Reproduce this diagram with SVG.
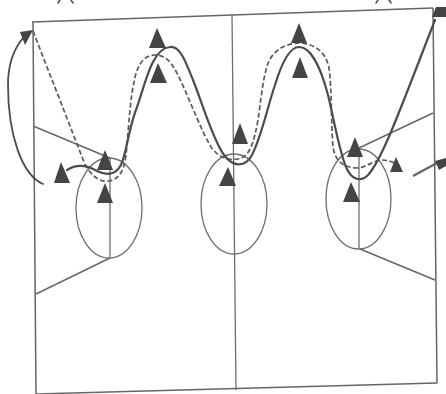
<svg xmlns="http://www.w3.org/2000/svg" width="446" height="394" viewBox="0 0 446 394">
<defs>
<style>
.thin{fill:none;stroke:#6e6e6e;stroke-width:1.3}
.line{fill:none;stroke:#666;stroke-width:1.5}
.run{fill:none;stroke:#4c4c4c;stroke-width:2.2;stroke-linecap:round}
.dash{fill:none;stroke:#5a5a5a;stroke-width:1.7;stroke-dasharray:5 2.5}
.tri{fill:#444}
</style>
</defs>
<rect width="446" height="394" fill="#fff"/>
<g id="court">
<path class="line" d="M32 22L433 8"/>
<path class="line" d="M33 22L36 394"/>
<path class="line" d="M433 8L437 383"/>
<path class="line" d="M36 394L437 383"/>
<path class="thin" d="M232 14L236 390"/>
<path class="line" d="M33 126L110 158"/>
<path class="line" d="M36 294L110 258"/>
<path class="line" d="M433 113L359 148"/>
<path class="line" d="M435 280L360 249"/>
<path class="thin" d="M110 158V258"/>
<path class="thin" d="M359 148V249"/>
<ellipse class="thin" cx="109" cy="208" rx="33" ry="50"/>
<ellipse class="thin" cx="234" cy="204" rx="33" ry="50"/>
<ellipse class="thin" cx="358.500" cy="199" rx="32.500" ry="50"/>
</g>
<g id="connectors">
<path class="dash" d="M33 31L84 162C90 175 100 183 109 181C120 179 124 170 126 155C129 125 130 100 134 82C138 60 147 55 155 55C168 55 173 66 178 75C190 100 200 128 211 147C218 157 228 161 238 159C250 157 254 142 258 120C261 100 263 75 269 61C276 47 290 43 300 43C315 44 326 52 329 68C332 90 331 125 333 147C335 160 342 167 356 168C366 168 372 161 381 160C387 160 391 161 396 164"/>
<path class="run" d="M67 170C76 164 87 165 97 171C105 175 115 176 121 165C127 152 128 130 137 107C145 85 152 48 170 47C180 46 185 60 193 80C203 105 213 140 224 155C233 167 245 168 252 155C262 135 268 105 275 85C282 62 290 47 299 47C311 47 321 68 328 95C334 120 339 150 346 167C351 179 360 183 368 175C382 160 400 110 435 20"/>
<path class="run" d="M43 184C22 175 8 135 8 85C8 65 13 50 23 38" style="stroke-width:1.800"/>
<path class="tri" d="M33 30L20 32L25 45Z"/>
<path class="line" d="M413 176L437 163" style="stroke-width:2.200"/>
<path class="tri" d="M446 158L435 161L439 170L446 166Z"/>
</g>
<g id="player-1"><path class="tri" d="M157 28L149 48H166Z"/></g>
<g id="player-2"><path class="tri" d="M158 63L150 83H167Z"/></g>
<g id="player-3"><path class="tri" d="M105 150L97 170H113Z"/></g>
<g id="player-4"><path class="tri" d="M105 183L97 203H113Z"/></g>
<g id="player-5"><path class="tri" d="M61 162L54 183H70Z"/></g>
<g id="player-6"><path class="tri" d="M240 123L232 144H248Z"/></g>
<g id="player-7"><path class="tri" d="M228 167L219 186H236Z"/></g>
<g id="player-8"><path class="tri" d="M299 23L291 43H307Z"/></g>
<g id="player-9"><path class="tri" d="M300 57L292 78H308Z"/></g>
<g id="player-10"><path class="tri" d="M355 137L347 157H363Z"/></g>
<g id="player-11"><path class="tri" d="M351 182L343 202H360Z"/></g>
<g id="player-12"><path class="tri" d="M396 157L390 172H403Z"/></g>
<g id="player-13"><path class="tri" d="M436 7L432 17H446V7Z"/></g>
<g id="cropped-marks"><path class="run" d="M60 0L58 3M71 0L73 3M378 0L376 3M389 0L391 3" style="stroke-width:1.500"/></g>
</svg>
